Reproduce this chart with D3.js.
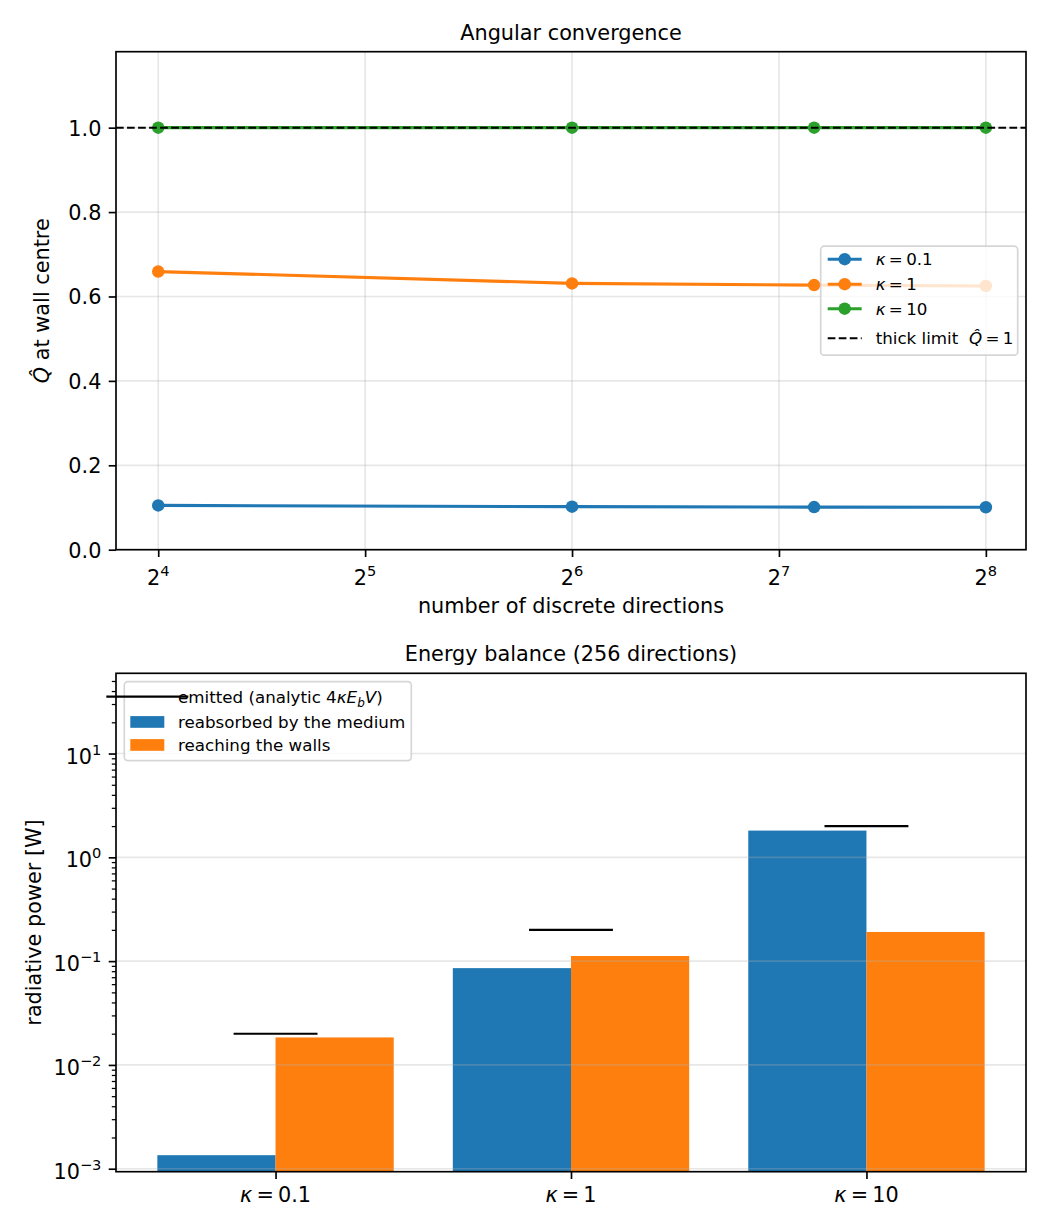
<!DOCTYPE html>
<html><head><meta charset="utf-8">
<script src="https://cdn.jsdelivr.net/npm/d3@7"></script>
<style>
body{margin:0;background:#fff}
svg{display:block}
text{font-family:"DejaVu Sans",sans-serif;fill:#000;white-space:pre}
</style>
</head><body>
<svg id="c" width="1050" height="1230"></svg>
<script>
// ---------- data ----------
const directions = [16, 64, 144, 256];
const qhatK01 = [0.105, 0.102, 0.101, 0.1005];
const qhatK1 = [0.659, 0.631, 0.627, 0.625];
const qhatK10 = [1.0, 1.0, 1.0, 1.0];
const thickLimit = 1.0;
const xTickExps = [4, 5, 6, 7, 8];
const yTicksTop = [0, 0.2, 0.4, 0.6, 0.8, 1.0];

const kappaLabels = ["0.1", "1", "10"];
const emitted = [0.02, 0.2, 2.0];
const reabsorbed = [0.00135, 0.0856, 1.81];
const walls = [0.0184, 0.112, 0.191];
const yTickExpsBottom = [-3, -2, -1, 0, 1];

// ---------- setup ----------
const svg = d3.select("#c");
const C = {blue:"#1f77b4", orange:"#ff7f0e", green:"#2ca02c"};
const FS = 20.8, TFS = 20.8, LFS = 16.7;
const TICK = 7.3, PAD = 7.3;
const TS = "\u2009"; // thin space for math-like spacing

const A1 = {l:116, r:1026, t:51.7, b:549.7};
const A2 = {l:116, r:1026, t:673.3, b:1171.7};

function styleAxis(g, sw){
  g.select(".domain").remove();
  g.selectAll(".tick line").attr("stroke","#000").attr("stroke-width", sw||1.67);
  g.selectAll(".tick text").attr("font-size", TFS).attr("font-family","DejaVu Sans").attr("fill","#000");
}

// ================= TOP CHART =================
const xTop = d3.scaleLog().base(2).domain([Math.pow(2,3.796), Math.pow(2,8.194)]).range([A1.l, A1.r]);
const yTop = d3.scaleLinear().domain([0, 1.18]).range([A1.b, A1.t]);
const topG = svg.append("g");

// grid
const gridTop = topG.append("g").attr("stroke","#b0b0b0").attr("stroke-opacity",0.3).attr("stroke-width",1.67);
gridTop.selectAll("line.v").data(xTickExps).join("line").attr("class","v")
  .attr("x1", d=>xTop(Math.pow(2,d))).attr("x2", d=>xTop(Math.pow(2,d)))
  .attr("y1", A1.t).attr("y2", A1.b);
gridTop.selectAll("line.h").data(yTicksTop).join("line").attr("class","h")
  .attr("x1", A1.l).attr("x2", A1.r)
  .attr("y1", d=>yTop(d)).attr("y2", d=>yTop(d));

const series = [
  {vals:qhatK01, color:C.blue, k:"0.1"},
  {vals:qhatK1, color:C.orange, k:"1"},
  {vals:qhatK10, color:C.green, k:"10"}
];
const line = d3.line().x((d,i)=>xTop(directions[i])).y(d=>yTop(d));
series.forEach((s, si)=>{
  topG.append("path").datum(s.vals).attr("d", line)
    .attr("fill","none").attr("stroke", s.color).attr("stroke-width",3.1).attr("stroke-linejoin","round");
  topG.append("g").selectAll("circle").data(s.vals).join("circle")
    .attr("cx",(d,i)=>xTop(directions[i])).attr("cy", d=>yTop(d)).attr("r",6.25)
    .attr("fill", s.color);
});
// thick limit dashed
topG.append("line").attr("x1",A1.l).attr("x2",A1.r)
  .attr("y1",yTop(thickLimit)).attr("y2",yTop(thickLimit))
  .attr("stroke","#000").attr("stroke-width",2.08).attr("stroke-dasharray","7.7,3.33");

// spines
topG.append("rect").attr("x",A1.l).attr("y",A1.t).attr("width",A1.r-A1.l).attr("height",A1.b-A1.t)
  .attr("fill","none").attr("stroke","#000").attr("stroke-width",1.67);

// axes
const gyTop = topG.append("g").attr("transform",`translate(${A1.l},0)`)
  .call(d3.axisLeft(yTop).tickValues(yTicksTop).tickSize(TICK).tickPadding(PAD).tickFormat(d3.format(".1f")));
styleAxis(gyTop);
gyTop.selectAll(".tick text").attr("dy","0.36em");

const gxTop = topG.append("g").attr("transform",`translate(0,${A1.b})`)
  .call(d3.axisBottom(xTop).tickValues(xTickExps.map(e=>Math.pow(2,e))).tickSize(TICK).tickFormat(""));
styleAxis(gxTop);
const xtl = topG.append("g").selectAll("text").data(xTickExps).join("text")
  .attr("x", d=>xTop(Math.pow(2,d))).attr("y", 584.5).attr("text-anchor","middle").attr("font-size",TFS);
xtl.append("tspan").text("2");
xtl.append("tspan").attr("dy",-9).attr("font-size",14.6).text(d=>d);

// labels
topG.append("text").attr("x",(A1.l+A1.r)/2).attr("y",39.5).attr("text-anchor","middle").attr("font-size",FS)
  .text("Angular convergence");
topG.append("text").attr("x",(A1.l+A1.r)/2).attr("y",613).attr("text-anchor","middle").attr("font-size",FS)
  .text("number of discrete directions");
const yl = topG.append("text").attr("transform",`translate(49,${(A1.t+A1.b)/2}) rotate(-90)`)
  .attr("text-anchor","middle").attr("font-size",FS);
yl.append("tspan").attr("font-style","italic").text("Q\u0302");
yl.append("tspan").text(" at wall centre");

// legend top
(function(){
  const W = 197, H = 109;
  const L = A1.r - 8.3 - W, T = (A1.t+A1.b)/2 - H/2;
  const lg = topG.append("g");
  lg.append("rect").attr("x",L).attr("y",T).attr("width",W).attr("height",H).attr("rx",3.5)
    .attr("fill","#fff").attr("fill-opacity",0.8).attr("stroke","#cccccc").attr("stroke-opacity",0.8).attr("stroke-width",1.67);
  const rows = [13, 38, 62.5];
  series.forEach((s,i)=>{
    const y = T + rows[i];
    lg.append("line").attr("x1",L+7).attr("x2",L+41).attr("y1",y).attr("y2",y)
      .attr("stroke",s.color).attr("stroke-width",3.1);
    lg.append("circle").attr("cx",L+24).attr("cy",y).attr("r",6.25).attr("fill",s.color);
    const t = lg.append("text").attr("x",L+55).attr("y",y+6).attr("font-size",LFS);
    t.append("tspan").attr("font-style","italic").text("\u03ba");
    t.append("tspan").text(TS + "=" + TS + s.k);
  });
  const y = T + 92;
  lg.append("line").attr("x1",L+7).attr("x2",L+41).attr("y1",y).attr("y2",y)
    .attr("stroke","#000").attr("stroke-width",2.08).attr("stroke-dasharray","7.7,3.33");
  const t = lg.append("text").attr("x",L+55).attr("y",y+6).attr("font-size",LFS);
  t.append("tspan").text("thick limit  ");
  t.append("tspan").attr("font-style","italic").text("Q\u0302");
  t.append("tspan").text(TS + "=" + TS + "1");
})();

// ================= BOTTOM CHART =================
const xB = d3.scaleLinear().domain([-0.54, 2.54]).range([A2.l, A2.r]);
const yB = d3.scaleLog().domain([0.000936, 59.3]).range([A2.b, A2.t]);
const botG = svg.append("g");
const idx = kappaLabels.map((d,i)=>i);

// bars
botG.append("g").selectAll("rect").data(reabsorbed).join("rect")
  .attr("x",(d,i)=>xB(i-0.4)).attr("width",(d,i)=>xB(i)-xB(i-0.4))
  .attr("y", d=>yB(d)).attr("height", d=>A2.b - yB(d)).attr("fill", C.blue);
botG.append("g").selectAll("rect").data(walls).join("rect")
  .attr("x",(d,i)=>xB(i)).attr("width",(d,i)=>xB(i+0.4)-xB(i))
  .attr("y", d=>yB(d)).attr("height", d=>A2.b - yB(d)).attr("fill", C.orange);

// grid (horizontal, majors) drawn above patches
botG.append("g").attr("stroke","#b0b0b0").attr("stroke-opacity",0.3).attr("stroke-width",1.67)
  .selectAll("line").data(yTickExpsBottom).join("line")
  .attr("x1",A2.l).attr("x2",A2.r).attr("y1",d=>yB(Math.pow(10,d))).attr("y2",d=>yB(Math.pow(10,d)));

// emitted lines
botG.append("g").selectAll("line").data(emitted).join("line")
  .attr("x1",(d,i)=>xB(i-0.142)).attr("x2",(d,i)=>xB(i+0.142))
  .attr("y1",d=>yB(d)).attr("y2",d=>yB(d)).attr("stroke","#000").attr("stroke-width",2.08);

// spines
botG.append("rect").attr("x",A2.l).attr("y",A2.t).attr("width",A2.r-A2.l).attr("height",A2.b-A2.t)
  .attr("fill","none").attr("stroke","#000").attr("stroke-width",1.67);

// y axis major + minor
const minor = [];
for (let e=-4; e<=2; e++) for (let m=2; m<=9; m++){ const v=m*Math.pow(10,e); if (v>=yB.domain()[0] && v<=yB.domain()[1]) minor.push(v); }
const gyBm = botG.append("g").attr("transform",`translate(${A2.l},0)`)
  .call(d3.axisLeft(yB).tickValues(minor).tickSize(4.2).tickFormat(""));
styleAxis(gyBm, 1.25);
const gyB = botG.append("g").attr("transform",`translate(${A2.l},0)`)
  .call(d3.axisLeft(yB).tickValues(yTickExpsBottom.map(e=>Math.pow(10,e))).tickSize(TICK).tickFormat(""));
styleAxis(gyB);
const ytl = botG.append("g").selectAll("text").data(yTickExpsBottom).join("text")
  .attr("x", A2.l - TICK - PAD).attr("y", d=>yB(Math.pow(10,d)) + 10).attr("text-anchor","end").attr("font-size",TFS);
ytl.append("tspan").text("10");
ytl.append("tspan").attr("dy",-9).attr("font-size",14.6).text(d=> d<0 ? "\u2212"+(-d) : String(d));

// x axis
const gxB = botG.append("g").attr("transform",`translate(0,${A2.b})`)
  .call(d3.axisBottom(xB).tickValues(idx).tickSize(TICK).tickFormat(""));
styleAxis(gxB);
const xbl = botG.append("g").selectAll("text").data(kappaLabels).join("text")
  .attr("x",(d,i)=>xB(i)).attr("y",1201.5).attr("text-anchor","middle").attr("font-size",TFS);
xbl.append("tspan").attr("font-style","italic").text("\u03ba");
xbl.append("tspan").text(d=>TS + "=" + TS + d);

// labels
botG.append("text").attr("x",(A2.l+A2.r)/2).attr("y",A2.t-12.5).attr("text-anchor","middle").attr("font-size",FS)
  .text("Energy balance (256 directions)");
botG.append("text").attr("transform",`translate(41,${(A2.t+A2.b)/2}) rotate(-90)`)
  .attr("text-anchor","middle").attr("font-size",FS).text("radiative power [W]");

// legend bottom
(function(){
  const L = A2.l + 8.3, T = A2.t + 8.3, W = 287, H = 79;
  const lg = botG.append("g");
  lg.append("rect").attr("x",L).attr("y",T).attr("width",W).attr("height",H).attr("rx",3.5)
    .attr("fill","#fff").attr("fill-opacity",0.8).attr("stroke","#cccccc").attr("stroke-opacity",0.8).attr("stroke-width",1.67);
  const tx = L + 53.7;
  lg.append("line").attr("x1",L-18).attr("x2",L+64).attr("y1",T+15).attr("y2",T+15)
    .attr("stroke","#000").attr("stroke-width",2.08);
  const t0 = lg.append("text").attr("x",tx).attr("y",T+21).attr("font-size",LFS);
  t0.append("tspan").text("emitted (analytic 4");
  t0.append("tspan").attr("font-style","italic").text("\u03baE");
  t0.append("tspan").attr("font-style","italic").attr("font-size",12).attr("dy",4).text("b");
  t0.append("tspan").attr("font-style","italic").attr("dy",-4).text("V");
  t0.append("tspan").text(")");
  const items = [{c:C.blue, t:"reabsorbed by the medium", y:40.5},{c:C.orange, t:"reaching the walls", y:63.5}];
  items.forEach(it=>{
    lg.append("rect").attr("x",L+6).attr("y",T+it.y-6).attr("width",34).attr("height",11.7).attr("fill",it.c);
    lg.append("text").attr("x",tx).attr("y",T+it.y+6).attr("font-size",LFS).text(it.t);
  });
})();
</script>
</body></html>
